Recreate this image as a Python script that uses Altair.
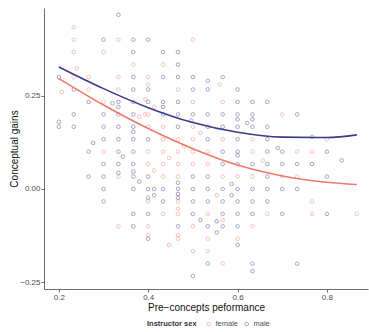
import altair as alt
import pandas as pd

# scores in 30ths (pre-test score, gain)
female_x30 = [6.2, 7, 7, 7, 7, 7.2, 8, 8, 9, 9, 9, 10, 10, 10, 10, 10, 11,
              12, 12, 12, 12, 12, 12, 12, 12, 12, 11.4, 11.8, 11.8,
              13, 13, 13, 13, 13, 13, 13, 12.4, 12.4,
              14, 14, 14, 14, 14, 14, 14, 14, 14, 14, 13.4, 14.4, 13.4,
              15, 15, 15, 15, 15, 15, 15, 15, 15.5,
              16, 16, 16, 16, 16, 16.6, 16.8,
              17, 17, 17, 17, 17,
              18, 18,
              19, 19, 19, 19,
              20, 19.7,
              21, 21,
              22, 22,
              23, 23, 23,
              24,
              26]
female_y30 = [7.8, 13, 12, 11, 9, 9.7, 9, 8, 11, 7, 3, 12, 9, 8, 1, -3, 10,
              9, 8.4, 6, 5, 3, 2, -1, -3, -3.7, 5.8, 6.0, 7.2,
              10, 5, 4, 3, 2, 1, -2, 6.6, 1.5,
              8, 4, 3, 2, 1, -1, -1.6, -2, -3.7, -4, 2.5, 3.4, -4.5,
              12, 7, 5, 4, 3, 2, -3, -5, 4.5,
              3, 2, -2, -4, -5, -0.5, 8.4,
              7, 4, 1, -6, -2.5,
              1, -4,
              4, 3, 1, -3,
              -2, 2.3,
              6, 1,
              3, 1,
              3, -1, -2,
              4,
              -2]

male_x30 = [6, 6, 6,
            7, 7, 7,
            8, 8, 8, 8.3,
            9, 9, 9, 9, 9, 9, 9, 9,
            10, 10, 10, 10, 10, 10, 10, 10, 10, 9.6, 10.3,
            11, 11, 11, 11, 11, 11, 11, 11, 11, 11, 11, 11, 11, 11, 11, 11, 11.4,
            12, 12, 12, 12, 12, 12, 12, 12, 12,
            13, 13, 13, 13, 13, 13, 13, 12.4, 12.4,
            14, 14, 14, 14, 14, 14, 14, 14, 14, 14, 14,
            15, 15, 15, 15, 15, 15, 15, 15, 14.9, 15.5,
            16, 16, 16, 16, 16, 16, 16, 16, 16, 16, 16.6, 16.6,
            17, 17, 17, 17, 17, 17, 17, 17, 17, 17.6, 17.6,
            18, 18, 18, 18, 18, 18, 18, 18, 18, 18, 18, 18, 18, 18,
            19, 19, 19, 19, 19, 19, 19, 19, 19, 19, 18.65,
            20, 20, 20, 20, 20, 20, 20, 20,
            21, 21, 21, 21, 20.7,
            22, 22, 22, 22,
            23, 23,
            24, 24, 24,
            25]
male_y30 = [9, 5.4, 5,
            8, 6, 5,
            7, 3, 1, 3.7,
            12, 6, 5, 4, 2, 1, 0, -1,
            14, 7, 6.6, 6, 5, 4, 3, 2, 1.3, 6.9, 2.6,
            12, 11, 9, 8, 7, 6, 5, 4.6, 4, 3, 2, 1.4, 1, 0, -2, -3, 0.6,
            12, 8, 7, 4, 1, 0, -0.7, -2, -4,
            11, 9, 7, 6.6, 6, 0, -1, 0, -0.5,
            11, 10, 9, 7, 6, 5, 0.5, 0, -0.4, -0.7, -3,
            9, 8, 6, 1, 0, -1, -2, -7, 5.5, -2.5,
            8.7, 8, 6, 5, 4, 1, 0, -1, -3, -6, -2.6, -3.5,
            9, 6, 5, 3, 2, 0, -1, -2, -3, 0.4, -0.5,
            8, 7, 6, 5.6, 5, 4, 3, 2.7, 2, 0, -1, -2, -3, -4.5,
            7, 6, 5.6, 5, 2, 0, -1, -2, -6, -6.6, 5.3,
            7, 5, 4, 3, 2, 1, 0, -1,
            3, 2, 0, -2, 3.3,
            6, 2, 0, -6,
            4.2, 2,
            3, 1, -2,
            2.3]

# fitted curves
curve_x = [0.2, 0.3, 0.4, 0.5, 0.6, 0.7, 0.8, 0.867]
curve_female = [0.296, 0.225, 0.162, 0.108, 0.064, 0.035, 0.018, 0.012]
curve_male = [0.327, 0.269, 0.218, 0.178, 0.152, 0.139, 0.138, 0.145]

sexes = ["female", "male"]
colors = ["#F2786A", "#3A3A88"]

pts = pd.DataFrame({
    "pre": [v / 30 for v in female_x30] + [v / 30 for v in male_x30],
    "gain": [v / 30 for v in female_y30] + [v / 30 for v in male_y30],
    "sex": ["female"] * len(female_x30) + ["male"] * len(male_x30),
})
lines = pd.DataFrame({
    "pre": curve_x + curve_x,
    "gain": curve_female + curve_male,
    "lsex": ["female"] * len(curve_x) + ["male"] * len(curve_x),
})

xscale = alt.Scale(domain=[0.1667, 0.892], nice=False, zero=False)
yscale = alt.Scale(domain=[-0.268, 0.485], nice=False, zero=False)

xaxis = alt.Axis(values=[0.2, 0.4, 0.6, 0.8], format=".1f", title="Pre−concepts peformance")
yaxis = alt.Axis(values=[-0.25, 0, 0.25], format=".2f", title="Conceptual gains")

points = alt.Chart(pts).mark_point(shape="circle", filled=False, size=13, strokeWidth=0.9, opacity=0.5).encode(
    x=alt.X("pre:Q", scale=xscale, axis=xaxis),
    y=alt.Y("gain:Q", scale=yscale, axis=yaxis),
    color=alt.Color("sex:N", scale=alt.Scale(domain=sexes, range=colors),
                    legend=alt.Legend(title="Instructor sex", orient="none", legendX=103, legendY=312,
                                      direction="horizontal", titleOrient="left")),
)

curves = alt.Chart(lines).mark_line(strokeWidth=1.6, interpolate="monotone").encode(
    x=alt.X("pre:Q", scale=xscale),
    y=alt.Y("gain:Q", scale=yscale),
    color=alt.Color("lsex:N", scale=alt.Scale(domain=sexes, range=colors), legend=None),
)

chart = alt.layer(points, curves).resolve_scale(color="independent").properties(
    width=324, height=281,
    autosize=alt.AutoSizeParams(type="none"),
    padding={"left": 44, "top": 8, "right": 1, "bottom": 43},
).configure_view(stroke=None).configure_axis(
    grid=False, domainColor="#6e6e6e", tickColor="#6e6e6e", tickSize=3,
    labelFont="Liberation Sans", labelFontSize=8, labelColor="#4d4d4d", labelPadding=1,
    titleFont="Liberation Sans", titleFontSize=10, titleFontWeight="normal", titleColor="#111111",
).configure_axisY(titlePadding=0).configure_axisX(titlePadding=1).configure_legend(
    titleFont="Liberation Sans", titleFontSize=7.5, titleFontWeight="bold", titleColor="#333333",
    labelFont="Liberation Sans", labelFontSize=7.5, labelColor="#4d4d4d",
    symbolSize=13, symbolStrokeWidth=0.9, symbolOpacity=0.5, symbolType="circle",
    columnPadding=4, labelOffset=3, titlePadding=8,
)

chart.save("out.html", embed_options={"renderer": "svg", "actions": False})
